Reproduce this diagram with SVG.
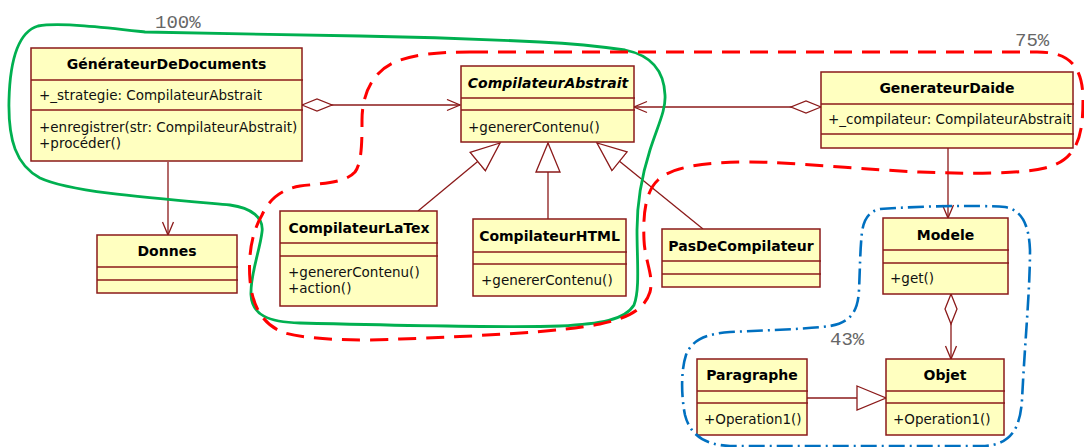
<svg xmlns="http://www.w3.org/2000/svg" width="1084" height="447" viewBox="0 0 1084 447">
<style>
.box{fill:#ffffc0;stroke:#8b1a1a;stroke-width:1.5}
.div{stroke:#8b1a1a;stroke-width:1.3}
.t{font-family:"DejaVu Sans",Verdana,sans-serif;font-size:14px;font-weight:bold;fill:#000;text-anchor:middle}
.ti{font-style:italic}
.m{font-family:"DejaVu Sans",Verdana,sans-serif;font-size:13.5px;fill:#111}
.c{stroke:#8b1a1a;stroke-width:1.3;fill:none}
.lbl{font-family:"Liberation Mono","DejaVu Sans Mono",monospace;font-size:19px;fill:#666}
</style>
<defs>
<marker id="arr" markerUnits="userSpaceOnUse" markerWidth="16" markerHeight="14" viewBox="0 0 16 14" refX="14" refY="6.5" orient="auto"><path d="M1,1 L14,6.5 L1,12" fill="none" stroke="#8b1a1a" stroke-width="1.3"/></marker>
<marker id="dia" markerUnits="userSpaceOnUse" markerWidth="34" markerHeight="16" viewBox="0 0 34 16" refX="1" refY="7" orient="auto"><path d="M1,7 L16,1 L31,7 L16,13 Z" fill="#fff" stroke="#8b1a1a" stroke-width="1.3"/></marker>
<marker id="tri" markerUnits="userSpaceOnUse" markerWidth="32" markerHeight="28" viewBox="0 0 32 28" refX="30" refY="13" orient="auto"><path d="M1,1 L30,13 L1,25 Z" fill="#fff" stroke="#8b1a1a" stroke-width="1.3"/></marker>
</defs>

<g id="connectors">
<path class="c" d="M302,105 L460,105" marker-start="url(#dia)" marker-end="url(#arr)"/>
<path class="c" d="M821,107 L634,107" marker-start="url(#dia)" marker-end="url(#arr)"/>
<path class="c" d="M168,162 L168,235" marker-end="url(#arr)"/>
<path class="c" d="M948,148 L948,218" marker-end="url(#arr)"/>
<path class="c" d="M418,211 L500,143" marker-end="url(#tri)"/>
<path class="c" d="M548,219 L548,143" marker-end="url(#tri)"/>
<path class="c" d="M703,229 L597,143" marker-end="url(#tri)"/>
<path class="c" d="M807,398 L886,398" marker-end="url(#tri)"/>
<path class="c" d="M951,294 L951,359" marker-start="url(#dia)" marker-end="url(#arr)"/>
</g>

<g id="GenerateurDeDocuments">
<rect class="box" x="31" y="48" width="271" height="113"/>
<line class="div" x1="31" y1="80" x2="303" y2="80"/>
<line class="div" x1="31" y1="110" x2="303" y2="110"/>
<text class="t" x="166.5" y="69">GénérateurDeDocuments</text>
<text class="m" x="39" y="100">+_strategie: CompilateurAbstrait</text>
<text class="m" x="39" y="132">+enregistrer(str: CompilateurAbstrait)</text>
<text class="m" x="39" y="148">+procéder()</text>
</g>

<g id="CompilateurAbstrait">
<rect class="box" x="461" y="66" width="173" height="76"/>
<line class="div" x1="461" y1="98" x2="635" y2="98"/>
<line class="div" x1="461" y1="110" x2="635" y2="110"/>
<text class="t ti" x="548" y="88">CompilateurAbstrait</text>
<text class="m" x="468" y="132">+genererContenu()</text>
</g>

<g id="GenerateurDaide">
<rect class="box" x="821" y="72" width="252" height="76"/>
<line class="div" x1="821" y1="104" x2="1074" y2="104"/>
<line class="div" x1="821" y1="134" x2="1074" y2="134"/>
<text class="t" x="947" y="93">GenerateurDaide</text>
<text class="m" x="828" y="124">+_compilateur: CompilateurAbstrait</text>
</g>

<g id="Donnes">
<rect class="box" x="97" y="235" width="140" height="58"/>
<line class="div" x1="97" y1="267" x2="238" y2="267"/>
<line class="div" x1="97" y1="280" x2="238" y2="280"/>
<text class="t" x="167" y="256">Donnes</text>
</g>

<g id="CompilateurLaTex">
<rect class="box" x="280" y="211" width="157" height="95"/>
<line class="div" x1="280" y1="243" x2="438" y2="243"/>
<line class="div" x1="280" y1="256" x2="438" y2="256"/>
<text class="t" x="359" y="233">CompilateurLaTex</text>
<text class="m" x="288" y="277">+genererContenu()</text>
<text class="m" x="288" y="293">+action()</text>
</g>

<g id="CompilateurHTML">
<rect class="box" x="473" y="219" width="153" height="77"/>
<line class="div" x1="473" y1="252" x2="627" y2="252"/>
<line class="div" x1="473" y1="264" x2="627" y2="264"/>
<text class="t" x="549.5" y="241">CompilateurHTML</text>
<text class="m" x="481" y="285">+genererContenu()</text>
</g>

<g id="PasDeCompilateur">
<rect class="box" x="662" y="229" width="158" height="58"/>
<line class="div" x1="662" y1="261" x2="821" y2="261"/>
<line class="div" x1="662" y1="274" x2="821" y2="274"/>
<text class="t" x="741" y="251">PasDeCompilateur</text>
</g>

<g id="Modele">
<rect class="box" x="883" y="218" width="125" height="76"/>
<line class="div" x1="883" y1="250" x2="1009" y2="250"/>
<line class="div" x1="883" y1="263" x2="1009" y2="263"/>
<text class="t" x="945.5" y="240">Modele</text>
<text class="m" x="890" y="283">+get()</text>
</g>

<g id="Paragraphe">
<rect class="box" x="697" y="359" width="110" height="76"/>
<line class="div" x1="697" y1="391" x2="808" y2="391"/>
<line class="div" x1="697" y1="403" x2="808" y2="403"/>
<text class="t" x="752" y="380">Paragraphe</text>
<text class="m" x="704" y="424">+Operation1()</text>
</g>

<g id="Objet">
<rect class="box" x="886" y="359" width="118" height="76"/>
<line class="div" x1="886" y1="391" x2="1005" y2="391"/>
<line class="div" x1="886" y1="403" x2="1005" y2="403"/>
<text class="t" x="945" y="380">Objet</text>
<text class="m" x="893" y="424">+Operation1()</text>
</g>

<g id="groups">
<path d="M145,32 C110,28 60,22 38,26 C18,32 10,60 9,100 C8,140 16,165 40,178 C70,192 150,198 230,205 C252,208 264,218 262,232 C260,250 250,275 251,295 C252,315 268,322 300,323 C380,325 500,328 560,326 C600,324 625,320 634,305 C640,290 637,260 637,230 C637,200 642,175 650,150 C658,125 666,110 665,95 C664,70 650,55 625,50 C590,45 560,43 540,42 C480,39 420,37 360,36 C280,34 200,33 145,32 Z" fill="none" stroke="#00b050" stroke-width="2.8"/>
<path d="M470,52 L1037,52 C1065,52 1083,62 1083,100 C1083,135 1078,160 1045,168 C1020,174 970,174 920,172 C870,170 790,162 750,162 C700,162 670,168 658,180 C645,192 643,215 644,240 C645,262 654,275 650,292 C645,308 630,318 600,324 C560,332 480,336 400,339 C360,341 310,340 285,333 C262,325 252,305 250,280 C248,255 252,232 262,215 C268,202 278,190 300,186 C325,183 345,183 355,172 C362,163 362,140 362,120 C362,95 372,72 395,62 C415,54 440,52 470,52 Z" fill="none" stroke="#ff0000" stroke-width="3" stroke-dasharray="18 10"/>
<path d="M880,209 C920,206 980,205 1005,207 C1022,210 1029,225 1030,250 C1030,290 1025,340 1022,400 C1020,430 1010,444 985,446 L730,446 C705,445 690,435 685,415 C681,395 681,370 686,355 C692,340 705,334 730,332 C770,330 810,329 830,326 C852,322 858,310 859,290 C860,270 860,250 862,232 C864,218 870,211 880,209 Z" fill="none" stroke="#0070c0" stroke-width="2.6" stroke-dasharray="16 5 2 5"/>
<text class="lbl" x="155" y="28">100%</text>
<text class="lbl" x="1015" y="46">75%</text>
<text class="lbl" x="830" y="345">43%</text>
</g>
</svg>
